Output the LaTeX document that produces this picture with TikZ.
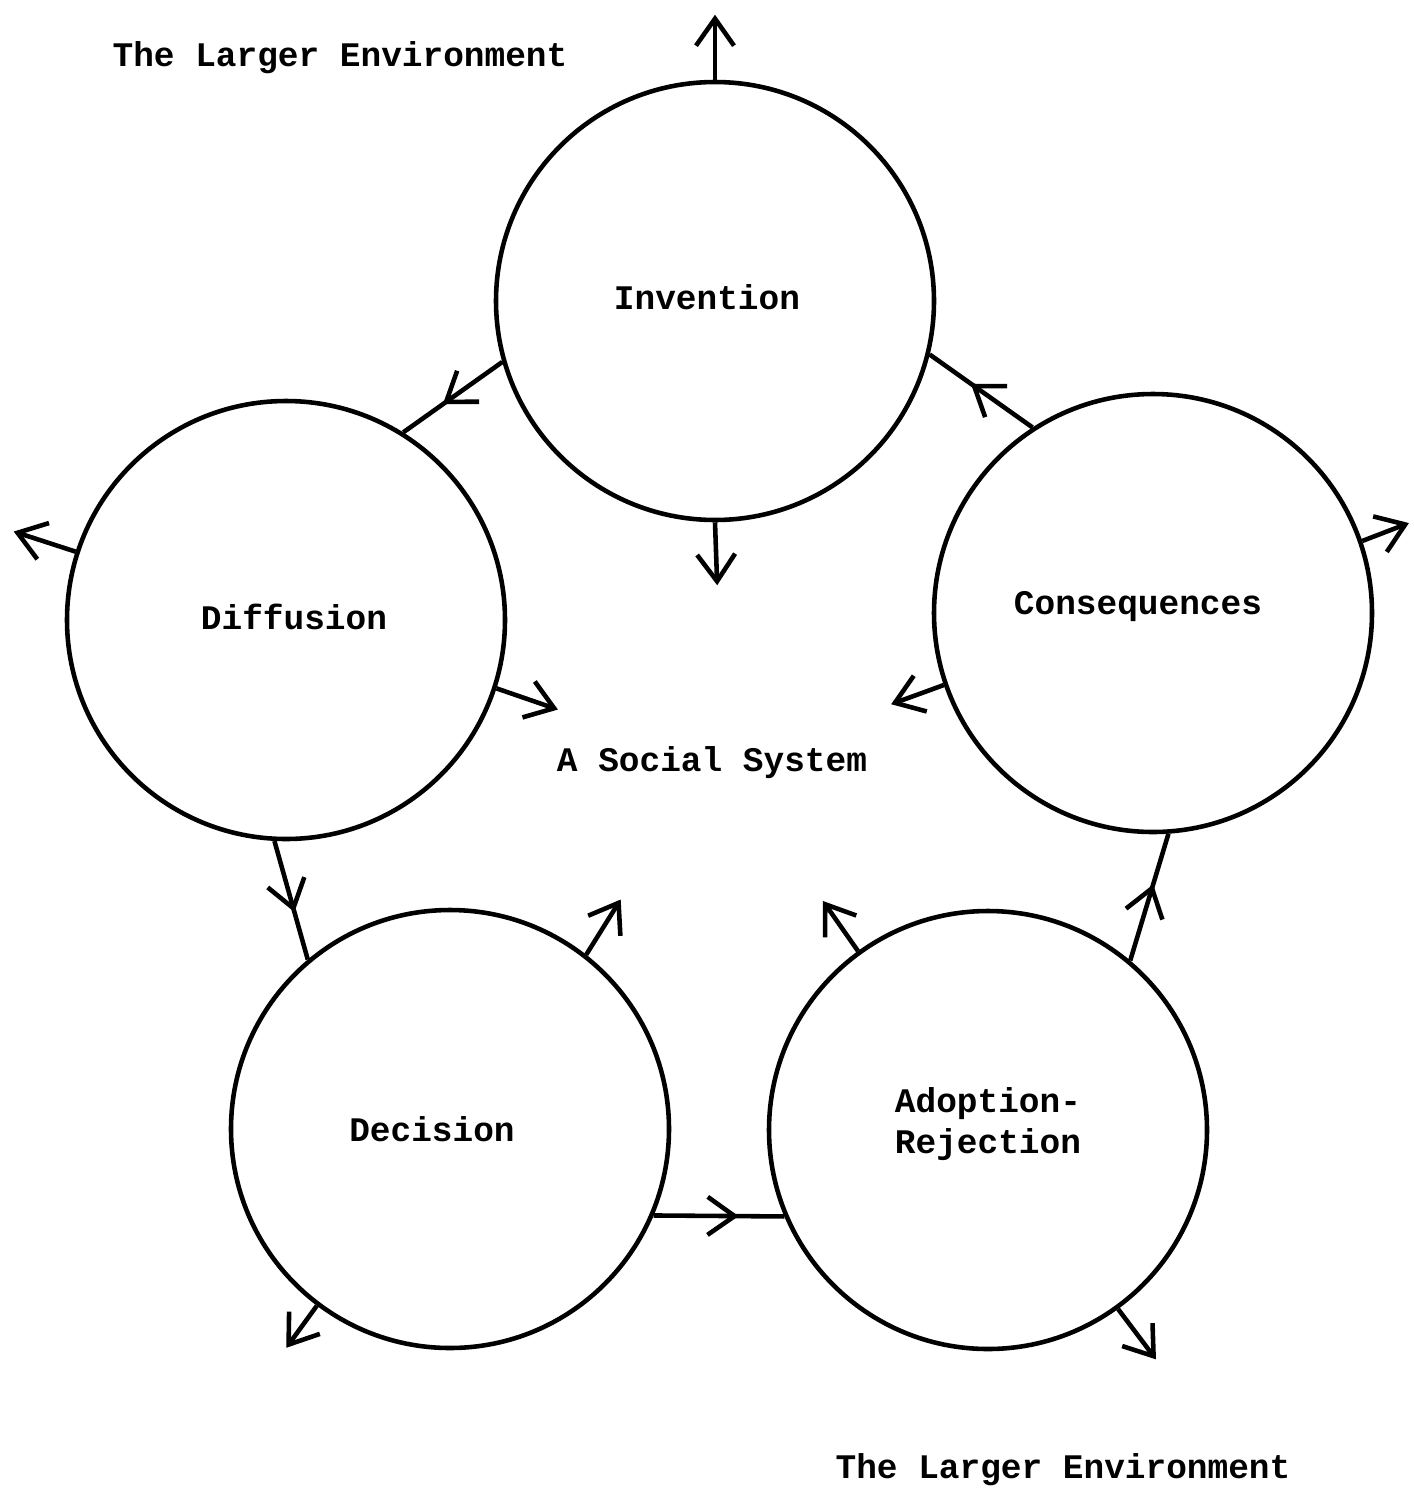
\documentclass[tikz,border=0pt]{standalone}
\usepackage{fontspec}
\setmonofont{Liberation Mono}
\usetikzlibrary{arrows.meta,decorations.markings}

\begin{document}
\begin{tikzpicture}[
    line width=1.3pt,
    every node/.style={font=\ttfamily\bfseries\fontsize{9.8}{11.5}\selectfont},
    every label/.style={align=left},
    stage/.style={draw, circle, minimum size=4.38cm, inner sep=0pt},
    tip/.style={-{Straight Barb[length=2.7mm,width=3.8mm]}},
    flow/.style={postaction={decorate}, decoration={markings,
        mark=at position #1 with {\arrow{Straight Barb[length=2.7mm,width=3.8mm]}}}},
    flow/.default=0.6
  ]
  \useasboundingbox (0,0) rectangle (14.13,-14.95);

  % The five stages
  \node[stage, label={[xshift=-0.08cm, yshift=0.04cm]center:Invention}] (inv) at (7.15,-3.01) {};
  \node[stage, label={[xshift=0.08cm, yshift=0.03cm]center:Diffusion}] (dif) at (2.86,-6.20) {};
  \node[stage, label={[xshift=-0.15cm, yshift=0.06cm]center:Consequences}] (con) at (11.53,-6.13) {};
  \node[stage, label={[xshift=-0.18cm]center:Decision}] (dec) at (4.50,-11.29) {};
  \node[stage, label={[yshift=0.06cm]center:Adoption-\\Rejection}] (ado) at (9.88,-11.30) {};

  % Cycle between the stages
  \draw[flow] (con.123) -- (inv.-14);
  \draw[flow] (inv.196) -- (dif.58);
  \draw[flow] (dif.267) -- (dec.130);
  \draw[flow=0.65] (dec.-23) -- (ado.203);
  \draw[flow] (ado.50) -- (con.-86);

  % Out to the larger environment
  \draw[tip] (inv.90) -- ++(90:0.65);
  \draw[tip] (dif.162) -- ++(162:0.65);
  \draw[tip] (con.19) -- ++(21:0.50);
  \draw[tip] (dec.233) -- ++(234:0.52);
  \draw[tip] (ado.-54) -- ++(-53:0.63);

  % In to the social system
  \draw[tip] (inv.270) -- ++(-88:0.63);
  \draw[tip] (dif.-18) -- ++(-19:0.65);
  \draw[tip] (con.199) -- ++(200:0.56);
  \draw[tip] (dec.52) -- ++(58:0.65);
  \draw[tip] (ado.126) -- ++(125:0.61);

  % Labels
  \node (soc) at (7.12,-7.63) {A Social System};
  \node (envtop) at (3.40,-0.58) {The Larger Environment};
  \node (envbot) at (10.63,-14.70) {The Larger Environment};
\end{tikzpicture}
\end{document}
